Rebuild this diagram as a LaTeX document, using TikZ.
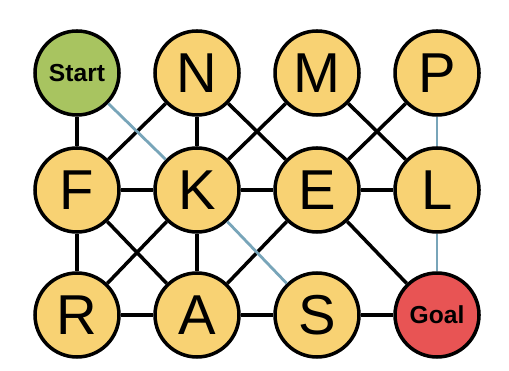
\documentclass[tikz,border=0pt]{standalone}
\usepackage{fontspec}
\setmainfont{Liberation Sans}
\usepackage{tikz}
\usetikzlibrary{shapes,arrows,positioning,calc}
\usepackage{xcolor}
\definecolor{cellyellow}{RGB}{248,210,115}
\definecolor{startgreen}{RGB}{168,196,96}
\definecolor{goalred}{RGB}{232,84,84}
\definecolor{faintblue}{RGB}{120,165,185}

\begin{document}
\begin{tikzpicture}[
        cell/.style={draw, line width=1pt, circle, minimum size=0.84cm, inner sep=0pt, fill=cellyellow, font=\fontsize{16}{18}\selectfont},
        link/.style={line width=1pt, black},
        faint/.style={line width=0.8pt, faintblue}]
        \useasboundingbox (0,0) rectangle (5.09,3.70);
        \node[cell, fill=startgreen, font=\fontsize{7}{8}\selectfont\bfseries] (start) at (0.77,2.97) {Start};
        \node[cell] (n) at (1.97,2.97) {N};
        \node[cell] (m) at (3.17,2.97) {M};
        \node[cell] (p) at (4.37,2.97) {P};
        \node[cell] (f) at (0.77,1.80) {F};
        \node[cell] (k) at (1.97,1.80) {K};
        \node[cell] (e) at (3.17,1.80) {E};
        \node[cell] (l) at (4.37,1.80) {L};
        \node[cell] (r) at (0.77,0.55) {R};
        \node[cell] (a) at (1.97,0.55) {A};
        \node[cell] (s) at (3.17,0.55) {S};
        \node[cell, fill=goalred, font=\fontsize{7}{8}\selectfont\bfseries] (goal) at (4.37,0.55) {Goal};
        % straight links
        \draw[link] (start) -- (f);
        \draw[link] (f) -- (r);
        \draw[link] (n) -- (k);
        \draw[link] (k) -- (a);
        \draw[link] (f) -- (k);
        \draw[link] (k) -- (e);
        \draw[link] (e) -- (l);
        \draw[link] (r) -- (a);
        \draw[link] (a) -- (s);
        \draw[link] (s) -- (goal);
        % diagonal links
        \draw[link] (f) -- (n);
        \draw[link] (n) -- (e);
        \draw[link] (m) -- (k);
        \draw[link] (m) -- (l);
        \draw[link] (p) -- (e);
        \draw[link] (f) -- (a);
        \draw[link] (k) -- (r);
        \draw[link] (a) -- (e);
        \draw[link] (e) -- (goal);
        % faint links
        \draw[faint] (start) -- (k);
        \draw[faint] (k) -- (s);
        \draw[faint] (p) -- (l);
        \draw[faint] (l) -- (goal);
    \end{tikzpicture}
\end{document}
